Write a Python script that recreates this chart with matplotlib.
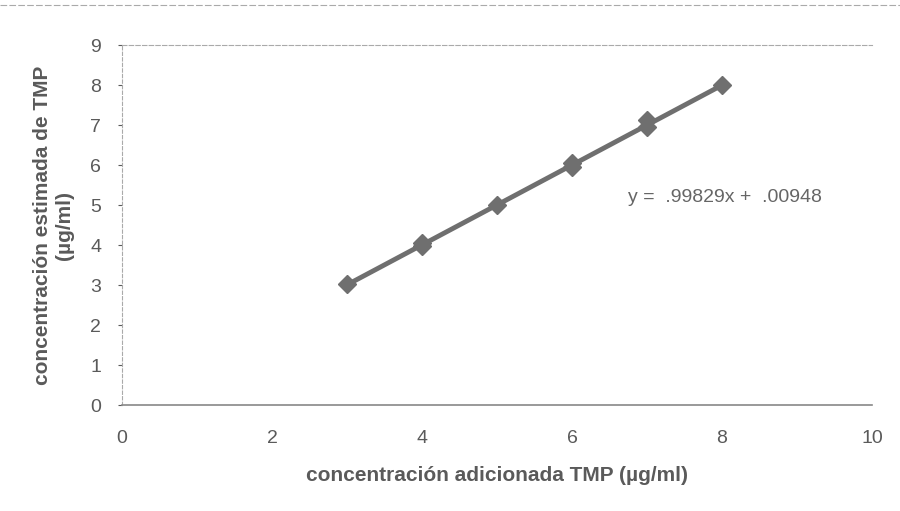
import matplotlib
matplotlib.use("Agg")
import matplotlib.pyplot as plt
import numpy as np

plt.rcParams['font.family'] = ['Liberation Sans', 'DejaVu Sans']

x_added = [3, 4, 4, 5, 6, 6, 7, 7, 8]
y_est = [3.02, 3.98, 4.05, 5.0, 5.95, 6.05, 6.95, 7.12, 8.0]
slope = 0.99829
intercept = 0.00948
x_ticks = [0, 2, 4, 6, 8, 10]
y_ticks = [0, 1, 2, 3, 4, 5, 6, 7, 8, 9]

fig = plt.figure(figsize=(9, 5.11), dpi=100)
ax = fig.add_axes([122/900, 1-405/511, 750/900, 360/511])

col = '#6f6f6f'
xl = np.array([3, 8])
ax.plot(xl, slope*xl + intercept, color=col, lw=3.5, solid_capstyle='round', zorder=2)
ax.plot(x_added, y_est, linestyle='none', marker='D', ms=9, color=col, mec=col, zorder=3)

ax.set_xlim(0, 10)
ax.set_ylim(0, 9)
ax.set_xticks(x_ticks)
ax.set_yticks(y_ticks)
txtc = '#5a5a5a'
ax.tick_params(axis='both', labelsize=14, colors=txtc, length=3, width=0.8)
ax.tick_params(axis='x', length=0, pad=18)
ax.tick_params(axis='y', pad=12)

ax.spines['right'].set_visible(False)
ax.spines['top'].set_color('#aaaaaa')
ax.spines['top'].set_linestyle((0, (4, 2)))
ax.spines['top'].set_linewidth(0.8)
ax.spines['left'].set_color('#aaaaaa')
ax.spines['left'].set_linestyle((0, (3, 2)))
ax.spines['left'].set_linewidth(0.8)
ax.spines['bottom'].set_color('#888888')
ax.spines['bottom'].set_linewidth(1.2)

ax.set_xlabel('concentración adicionada TMP (µg/ml)', fontsize=15, fontweight='bold',
              color=txtc, labelpad=14)
ax.set_ylabel('concentración estimada de TMP\n(µg/ml)', fontsize=15, fontweight='bold',
              color=txtc, labelpad=12, linespacing=1.2)

ax.text(6.75, 5.2, 'y =  .99829x +  .00948', fontsize=14, color='#666666', va='center', ha='left')

fig.add_artist(plt.Line2D([0, 1], [1-5/511, 1-5/511], color='#aaaaaa', lw=0.8,
                          linestyle=(0, (6, 2))))

fig.savefig('out.png', dpi=100, facecolor='white')
